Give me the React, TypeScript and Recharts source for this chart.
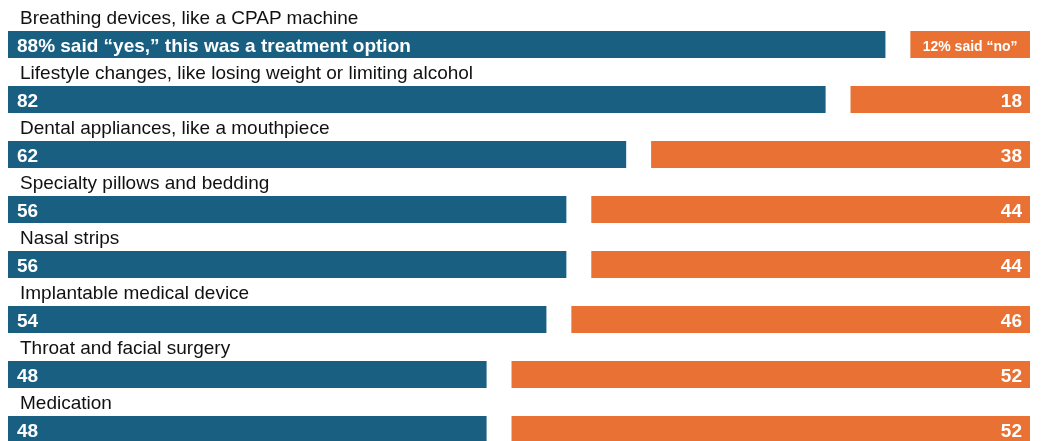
import { BarChart, Bar, XAxis, YAxis, LabelList } from 'recharts';

const categories = [
  'Breathing devices, like a CPAP machine',
  'Lifestyle changes, like losing weight or limiting alcohol',
  'Dental appliances, like a mouthpiece',
  'Specialty pillows and bedding',
  'Nasal strips',
  'Implantable medical device',
  'Throat and facial surgery',
  'Medication',
];
const yesValues = [88, 82, 62, 56, 56, 54, 48, 48];
const noValues = [12, 18, 38, 44, 44, 46, 52, 52];
const yesText = ['88% said \u201cyes,\u201d this was a treatment option'];
const noText = ['12% said \u201cno\u201d'];

// spacer between the two bars, in percentage units
const GAP = 2.5;

const BLUE = '#185f82';
const ORANGE = '#e87133';
const FONT = '"Liberation Sans", Arial, sans-serif';

const data = categories.map((name, i) => ({
  name,
  yes: yesValues[i],
  gap: GAP,
  no: noValues[i],
}));

const renderYes = (props: any) => {
  const { x, y, height, index } = props;
  const i = index as number;
  return (
    <g>
      <text
        x={x + 12}
        y={y - 14}
        dominantBaseline="central"
        fontSize={19}
        fontFamily={FONT}
        fill="#111"
      >
        {categories[i]}
      </text>
      <text
        x={x + 9}
        y={y + height / 2 + 1}
        dominantBaseline="central"
        fontSize={19}
        fontWeight="bold"
        fontFamily={FONT}
        fill="#fff"
      >
        {yesText[i] ?? yesValues[i]}
      </text>
    </g>
  );
};

const renderNo = (props: any) => {
  const { x, y, width, height, index } = props;
  const i = index as number;
  if (noText[i]) {
    return (
      <text
        x={x + width / 2}
        y={y + height / 2 + 1}
        textAnchor="middle"
        dominantBaseline="central"
        fontSize={14}
        fontWeight="bold"
        fontFamily={FONT}
        fill="#fff"
      >
        {noText[i]}
      </text>
    );
  }
  return (
    <text
      x={x + width - 8}
      y={y + height / 2 + 1}
      textAnchor="end"
      dominantBaseline="central"
      fontSize={19}
      fontWeight="bold"
      fontFamily={FONT}
      fill="#fff"
    >
      {noValues[i]}
    </text>
  );
};

export default function App() {
  return (
    <div style={{ position: 'fixed', top: 0, left: 0, width: 1043, height: 441, overflow: 'hidden' }}>
      <BarChart
        width={1043}
        height={457}
        layout="vertical"
        data={data}
        margin={{ top: 17, right: 13, left: 8, bottom: 0 }}
      >
        <XAxis type="number" domain={[0, 100 + GAP]} hide />
        <YAxis type="category" dataKey="name" hide />
        <Bar dataKey="yes" stackId="a" fill={BLUE} barSize={27} isAnimationActive={false}>
          <LabelList dataKey="yes" content={renderYes} />
        </Bar>
        <Bar dataKey="gap" stackId="a" fill="transparent" barSize={27} isAnimationActive={false} />
        <Bar dataKey="no" stackId="a" fill={ORANGE} barSize={27} isAnimationActive={false}>
          <LabelList dataKey="no" content={renderNo} />
        </Bar>
      </BarChart>
    </div>
  );
}
